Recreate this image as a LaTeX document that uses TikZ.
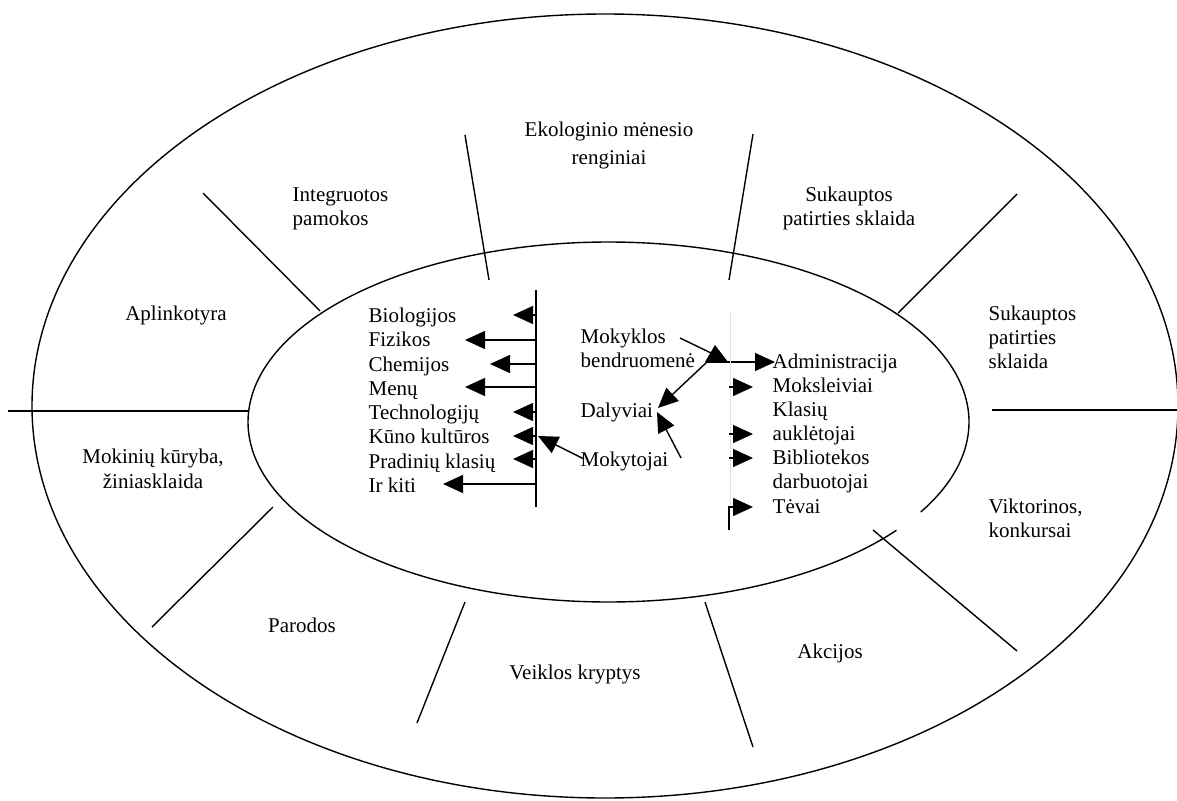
\documentclass[tikz,border=0pt]{standalone}
\usepackage{fontspec}
\setmainfont{Liberation Serif}
\usetikzlibrary{arrows.meta}
\begin{document}
\begin{tikzpicture}[x=1pt,y=-1pt,line width=1.4pt,
  lbl/.style={inner sep=0pt,font=\fontsize{21}{24}\selectfont},
  lw/.style={lbl,anchor=base west},
  lc/.style={lbl,anchor=base},
  arr/.style={-{Triangle[length=20pt,width=18pt]}},
  faint/.style={line width=0.6pt,black!12}]
\useasboundingbox (0,0) rectangle (1177,800);

% outer and inner ellipses
\draw (605,406) ellipse [x radius=573, y radius=392];
\draw plot[domain=37:390,samples=240,smooth] ({608.5+360.5*cos(\x)},{422+180*sin(\x)});

% spokes
\coordinate (s1a) at (8,411);    \coordinate (s1b) at (249,411);
\coordinate (s2a) at (992,410);  \coordinate (s2b) at (1177,410);
\coordinate (s3a) at (203,193);  \coordinate (s3b) at (320,311);
\coordinate (s4a) at (465,135);  \coordinate (s4b) at (489,280);
\coordinate (s5a) at (753,134);  \coordinate (s5b) at (729,280);
\coordinate (s6a) at (1017,194); \coordinate (s6b) at (898,313);
\coordinate (s7a) at (273,507);  \coordinate (s7b) at (152,627);
\coordinate (s8a) at (465,602);  \coordinate (s8b) at (417,723);
\coordinate (s9a) at (705,602);  \coordinate (s9b) at (753,747);
\coordinate (s10a) at (873,530); \coordinate (s10b) at (1017,651);
\foreach \i in {1,...,10} {\draw (s\i a) -- (s\i b);}

% outer ring labels
\node[lc] (eko1) at (609,136) {Ekologinio mėnesio};
\node[lc] (eko2) at (609,164) {renginiai};
\node[lw] (int1) at (292,201) {Integruotos};
\node[lw] (int2) at (292,225) {pamokos};
\node[lc] (suk1) at (849,201) {Sukauptos};
\node[lc] (suk2) at (849,225) {patirties sklaida};
\node[lw] (sukb1) at (988,320) {Sukauptos};
\node[lw] (sukb2) at (988,344) {patirties};
\node[lw] (sukb3) at (988,368) {sklaida};
\node[lc] (apl) at (176,320) {Aplinkotyra};
\node[lc] (mok1) at (153,463) {Mokinių kūryba,};
\node[lc] (mok2) at (153,488) {žiniasklaida};
\node[lc] (par) at (302,632) {Parodos};
\node[lc] (vei) at (575,679) {Veiklos kryptys};
\node[lc] (akc) at (830,658) {Akcijos};
\node[lw] (vik1) at (988,513) {Viktorinos,};
\node[lw] (vik2) at (988,537) {konkursai};

% left list
\node[lw] (bio) at (368,322) {Biologijos};
\node[lw] (fiz) at (368,346) {Fizikos};
\node[lw] (che) at (368,371) {Chemijos};
\node[lw] (men) at (368,395) {Menų};
\node[lw] (tec) at (368,419) {Technologijų};
\node[lw] (kun) at (368,443) {Kūno kultūros};
\node[lw] (pra) at (368,468) {Pradinių klasių};
\node[lw] (irk) at (368,492) {Ir kiti};

\coordinate (vt) at (536,290); \coordinate (vb) at (536,507);
\draw (vt) -- (vb);
\foreach \y/\t in {315/513,340/465,364/490,387/465,412/513,436/513,459/513,484/443}
  {\draw[arr] (536,\y) -- (\t,\y);}

% middle
\node[lw] (mkb1) at (580,343) {Mokyklos};
\node[lw] (mkb2) at (580,367) {bendruomenė};
\node[lw] (dal) at (580,417) {Dalyviai};
\node[lw] (mkt) at (580,466) {Mokytojai};

\coordinate (kuntip) at (538,436);
\draw[arr] (584,459) -- (kuntip);
\coordinate (J) at (707,362);
\draw (680,338) -- (711,353);
\fill (715,345) -- (705,362) -- (728,362) -- cycle;
\coordinate (admtip) at (775,362);
\coordinate (daltip) at (658,408);
\coordinate (daltip2) at (657,412);
\draw[arr] (J) -- (admtip);
\draw[arr] (J) -- (daltip);
\draw[arr] (681,458) -- (daltip2);

% right list
\node[lw] (adm) at (772,368) {Administracija};
\node[lw] (msk) at (772,392) {Moksleiviai};
\node[lw] (kla1) at (772,416) {Klasių};
\node[lw] (kla2) at (772,440) {auklėtojai};
\node[lw] (bib1) at (772,464) {Bibliotekos};
\node[lw] (bib2) at (772,488) {darbuotojai};
\node[lw] (tev) at (772,513) {Tėvai};

\draw[faint] (730,313) -- (730,507);
\foreach \y in {387,434,458}
  {\draw[arr] (729,\y) -- (753,\y);}
\draw[arr] (729,530) -- (729,507) -- (753,507);
\end{tikzpicture}
\end{document}
